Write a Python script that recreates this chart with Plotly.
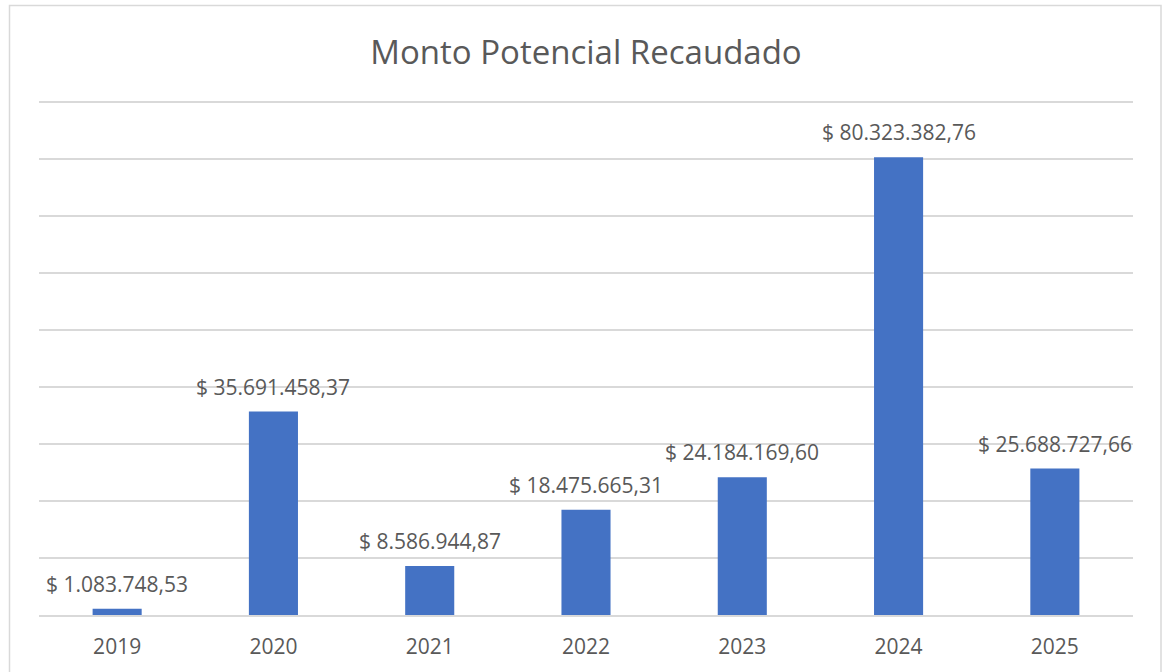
import plotly.graph_objects as go

years = ["2019", "2020", "2021", "2022", "2023", "2024", "2025"]
values = [1083748.53, 35691458.37, 8586944.87, 18475665.31, 24184169.60, 80323382.76, 25688727.66]
labels = ["$ 1.083.748,53", "$ 35.691.458,37", "$ 8.586.944,87", "$ 18.475.665,31",
          "$ 24.184.169,60", "$ 80.323.382,76", "$ 25.688.727,66"]

FONT = "Open Sans"
GRAY = "#595959"

T, B = 99, 57
H = 672 - T - B          # plot height in px
Y_MAX = 90e6 * H / 513   # so that 90M sits at y=102 and 0 at y=615

fig = go.Figure()
fig.add_trace(go.Bar(
    x=years, y=values, marker=dict(color="#4472C4", line=dict(width=0)),
    hoverinfo="skip",
))

# data labels: on a category axis, positions are category indices
for i, (y, t) in enumerate(zip(values, labels)):
    fig.add_annotation(x=i, y=y, xref="x", yref="y", text=t, showarrow=False,
                       yanchor="middle", yshift=25,
                       font=dict(family=FONT, size=21, color=GRAY))

# chart frame
fig.add_shape(type="rect", xref="paper", yref="paper",
              x0=(9.5 - 39) / 1094, x1=(1161 - 39) / 1094,
              y0=(615 - 690) / H, y1=(615 - 5.5) / H,
              line=dict(color="#d9d9d9", width=1.5), layer="below")

fig.update_layout(
    width=1165, height=672,
    margin=dict(l=39, r=32, t=T, b=B, autoexpand=False),
    paper_bgcolor="white", plot_bgcolor="white",
    bargap=0.686,
    showlegend=False,
    title=dict(text="Monto Potencial Recaudado", x=0.5, xref="paper", xanchor="center",
               y=1 - 52 / 672, yanchor="middle",
               font=dict(family=FONT, size=33, color=GRAY)),
    xaxis=dict(type="category", range=[-0.5, 6.5], showline=True, linecolor="#d9d9d9",
               linewidth=1.5, ticks="", tickfont=dict(family=FONT, size=21, color=GRAY),
               ticklabelstandoff=12,
               showgrid=False, fixedrange=True, automargin=False),
    yaxis=dict(range=[0, Y_MAX], tick0=0, dtick=10e6, showgrid=True, gridcolor="#d9d9d9",
               gridwidth=1.5, showticklabels=False, zeroline=False, ticks="",
               fixedrange=True, automargin=False),
)

fig.write_html("out.html", config={"displayModeBar": False},
               post_script="document.body.style.margin='0';document.body.style.overflow='hidden';")
